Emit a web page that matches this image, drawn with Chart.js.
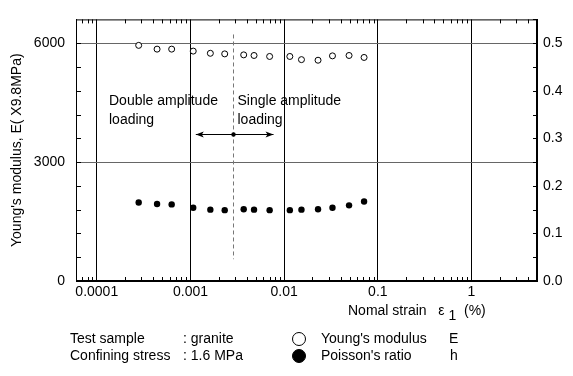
<!DOCTYPE html>
<html>
<head>
<meta charset="utf-8">
<script src="https://cdn.jsdelivr.net/npm/chart.js@4"></script>
<style>
  body { margin: 0; background: #fff; font-family: "Liberation Sans", Arial, sans-serif; color: #000; }
  #wrap { position: relative; width: 573px; height: 376px; }
  .t { position: absolute; font-size: 14px; white-space: pre; line-height: 17px; }
  .dot { position: absolute; width: 14px; height: 14px; border-radius: 50%; border: 1.2px solid #000; box-sizing: border-box; }
</style>
</head>
<body>
<div id="wrap">
  <canvas id="chart" width="573" height="376"></canvas>
  <div class="t" style="left:348px; top:302px;">Nomal strain   ε <span style="position:relative; top:5px;">1</span>  (%)</div>
  <div class="t" style="left:70px; top:330px;">Test sample</div>
  <div class="t" style="left:183px; top:330px;">: granite</div>
  <div class="t" style="left:70px; top:347px;">Confining stress</div>
  <div class="t" style="left:183px; top:347px;">: 1.6 MPa</div>
  <div class="dot" style="left:292px; top:332px; background:#fff;"></div>
  <div class="dot" style="left:292px; top:349px; background:#000;"></div>
  <div class="t" style="left:321px; top:330px;">Young's modulus</div>
  <div class="t" style="left:449px; top:330px;">E</div>
  <div class="t" style="left:321px; top:347px;">Poisson's ratio</div>
  <div class="t" style="left:450px; top:347px;">h</div>
</div>
<script>
// values
const strain = [0.00028, 0.00044, 0.00063, 0.00107, 0.00163, 0.00232, 0.0037, 0.00477, 0.0070, 0.0115, 0.0153, 0.023, 0.0328, 0.0493, 0.0713]
const youngs = [5945, 5850, 5850, 5800, 5745, 5730, 5705, 5690, 5665, 5665, 5585, 5570, 5680, 5690, 5640]
const poisson = [0.165, 0.162, 0.161, 0.154, 0.150, 0.149, 0.151, 0.150, 0.149, 0.149, 0.150, 0.151, 0.154, 0.159, 0.167]

const xTicks = [0.0001, 0.001, 0.01, 0.1, 1]
const xTickLabels = ["0.0001", "0.001", "0.01", "0.1", "1"]
const yTicks = [0, 3000, 6000]
const y2Ticks = [0, 0.1, 0.2, 0.3, 0.4, 0.5]

// boundary between double / single amplitude loading
const boundaryStrain = 0.00285
const boundaryRange = [550, 6220]
const arrowFrom = 0.00114
const arrowTo = 0.0077
const arrowLevel = 3700

const FONT = "Liberation Sans, Arial, sans-serif"

// inside tick marks, frame, dashed boundary and arrow
const decorations = {
  id: "decorations",
  afterDatasetsDraw(chart) {
    const { ctx, chartArea: a, scales } = chart
    const x = scales.x, y = scales.y, y2 = scales.y2
    ctx.save()
    ctx.strokeStyle = "#000"
    ctx.lineWidth = 1
    ctx.beginPath()
    // minor log ticks on bottom and top
    for (let d = -5; d <= 0; d++) {
      for (let m = 2; m <= 9; m++) {
        const v = m * Math.pow(10, d)
        if (v < x.min || v > x.max) continue
        const px = Math.round(x.getPixelForValue(v)) + 0.5
        ctx.moveTo(px, a.bottom); ctx.lineTo(px, a.bottom - 4)
        ctx.moveTo(px, a.top); ctx.lineTo(px, a.top + 4)
      }
    }
    // left minor ticks
    for (let v = 600; v < y.max; v += 600) {
      const py = Math.round(y.getPixelForValue(v)) + 0.5
      ctx.moveTo(a.left, py); ctx.lineTo(a.left + 5, py)
    }
    // right ticks
    for (let v = 0.05; v < y2.max; v += 0.05) {
      const py = Math.round(y2.getPixelForValue(v)) + 0.5
      ctx.moveTo(a.right, py); ctx.lineTo(a.right - 4, py)
    }
    ctx.stroke()
    ctx.strokeRect(a.left + 0.5, a.top + 0.5, a.right - a.left - 1, a.bottom - a.top - 1)

    // dashed boundary
    const bx = Math.round(x.getPixelForValue(boundaryStrain)) + 0.5
    ctx.strokeStyle = "#777"
    ctx.setLineDash([4, 3])
    ctx.beginPath()
    ctx.moveTo(bx, y.getPixelForValue(boundaryRange[1]))
    ctx.lineTo(bx, y.getPixelForValue(boundaryRange[0]))
    ctx.stroke()
    ctx.setLineDash([])

    // double arrow
    const ay = Math.round(y.getPixelForValue(arrowLevel)) + 0.5
    const x1 = x.getPixelForValue(arrowFrom), x2 = x.getPixelForValue(arrowTo)
    ctx.strokeStyle = "#000"
    ctx.beginPath()
    ctx.moveTo(x1, ay); ctx.lineTo(x2, ay)
    ctx.stroke()
    ctx.fillStyle = "#000"
    ctx.beginPath()
    ctx.moveTo(x1, ay); ctx.lineTo(x1 + 8, ay - 3); ctx.lineTo(x1 + 6, ay); ctx.lineTo(x1 + 8, ay + 3); ctx.closePath()
    ctx.moveTo(x2, ay); ctx.lineTo(x2 - 8, ay - 3); ctx.lineTo(x2 - 6, ay); ctx.lineTo(x2 - 8, ay + 3); ctx.closePath()
    ctx.fill()
    ctx.beginPath()
    ctx.arc(bx, ay, 2.2, 0, Math.PI * 2)
    ctx.fill()

    // annotation text
    ctx.font = "14px " + FONT
    ctx.textBaseline = "middle"
    ctx.textAlign = "left"
    const ty = y.getPixelForValue(4550)
    ctx.fillText("Double amplitude", a.left + 33, ty)
    ctx.fillText("loading", a.left + 33, ty + 19)
    ctx.fillText("Single amplitude", bx + 4, ty)
    ctx.fillText("loading", bx + 4, ty + 19)
    ctx.restore()
  },
}

function initChart() {
  const ctx = document.getElementById("chart").getContext("2d")
  new Chart(ctx, {
    type: "scatter",
    data: {
      datasets: [
        {
          label: "Young's modulus E",
          data: strain.map((s, i) => ({ x: s, y: youngs[i] })),
          yAxisID: "y",
          pointStyle: "circle",
          pointRadius: 3,
          pointBorderWidth: 1,
          pointBackgroundColor: "#fff",
          pointBorderColor: "#000",
        },
        {
          label: "Poisson's ratio h",
          data: strain.map((s, i) => ({ x: s, y: poisson[i] })),
          yAxisID: "y2",
          pointStyle: "circle",
          pointRadius: 3.2,
          pointBorderWidth: 0,
          pointBackgroundColor: "#000",
          pointBorderColor: "#000",
        },
      ],
    },
    options: {
      responsive: false,
      animation: false,
      layout: { padding: { top: 7, left: 0, right: 0, bottom: 0 } },
      plugins: { legend: { display: false }, tooltip: { enabled: false } },
      scales: {
        x: {
          type: "logarithmic",
          min: 0.00006,
          max: 5,
          afterBuildTicks: (s) => { s.ticks = xTicks.map((v) => ({ value: v })) },
          afterFit: (s) => { s.height = 95 },
          ticks: {
            autoSkip: false,
            maxRotation: 0,
            padding: 3,
            color: "#000",
            font: { family: FONT, size: 14 },
            callback: (v) => xTickLabels[xTicks.indexOf(v)] ?? "",
          },
          grid: { color: "#000", lineWidth: 1, drawTicks: false },
          border: { color: "#000" },
        },
        y: {
          position: "left",
          min: 0,
          max: 6600,
          afterBuildTicks: (s) => { s.ticks = yTicks.map((v) => ({ value: v })) },
          afterFit: (s) => { s.width = 76 },
          ticks: {
            padding: 11,
            color: "#000",
            font: { family: FONT, size: 14 },
            callback: (v) => String(v),
          },
          grid: { color: (c) => (c.tick && c.tick.value === 0 ? "rgba(0,0,0,0)" : "#666"), lineWidth: 1, drawTicks: false },
          border: { color: "#000" },
          title: {
            display: true,
            text: "Young's modulus, E( X9.8MPa)",
            color: "#000",
            font: { family: FONT, size: 14 },
            padding: { top: 9, bottom: 0 },
          },
        },
        y2: {
          position: "right",
          min: 0,
          max: 0.55,
          afterBuildTicks: (s) => { s.ticks = y2Ticks.map((v) => ({ value: v })) },
          afterFit: (s) => { s.width = 36 },
          ticks: {
            padding: 6,
            color: "#000",
            font: { family: FONT, size: 14 },
            callback: (v) => v.toFixed(1),
          },
          grid: { display: false, drawTicks: false },
          border: { color: "#000" },
        },
      },
    },
    plugins: [decorations],
  })
}

window.addEventListener("load", initChart)
</script>
</body>
</html>
